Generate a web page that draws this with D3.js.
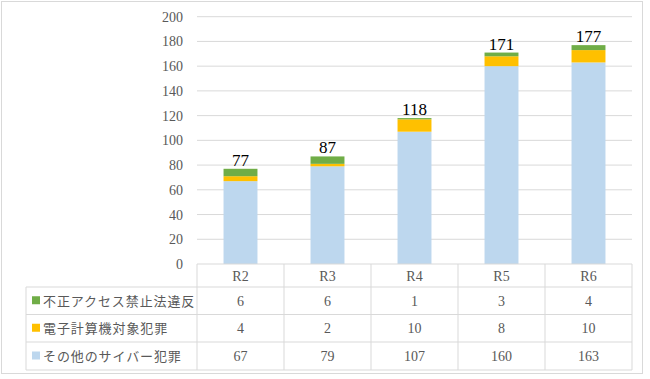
<!DOCTYPE html>
<html><head><meta charset="utf-8">
<script src="https://cdn.jsdelivr.net/npm/d3@7"></script>
<style>body{margin:0;background:#fff} .sf{font-family:"Liberation Serif","Times New Roman","DejaVu Serif",serif} .jp{font-family:"Noto Sans CJK JP",sans-serif}</style>
</head><body>
<svg id="c" width="650" height="379"></svg>
<script>
const categories = ["R2","R3","R4","R5","R6"];
const seriesNames = ["不正アクセス禁止法違反","電子計算機対象犯罪","その他のサイバー犯罪"];
const unauthorized = [6,6,1,3,4];
const computer = [4,2,10,8,10];
const other = [67,79,107,160,163];
const yTicks = [0,20,40,60,80,100,120,140,160,180,200];
const colors = ["#70AD47","#FFC000","#BDD7EE"];

(function(){
const svg = d3.select("#c");
const pL = 197, pR = 632, pT = 16.7, pB = 264;
const x = d3.scaleBand().domain(categories).range([pL,pR]).paddingInner(0).paddingOuter(0);
const y = d3.scaleLinear().domain([0,200]).range([pB,pT]);

svg.append("rect").attr("x",1.5).attr("y",1.5).attr("width",641).attr("height",372)
  .attr("fill","#fff").attr("stroke","#D9D9D9");

svg.append("g").selectAll("line").data(yTicks.filter(d=>d>0)).join("line")
  .attr("x1",pL).attr("x2",pR).attr("y1",d=>y(d)).attr("y2",d=>y(d))
  .attr("stroke","#D9D9D9").attr("stroke-width",1);

const yAxis = d3.axisLeft(y).tickValues(yTicks).tickSize(0).tickPadding(14);
const ga = svg.append("g").attr("transform",`translate(${pL},0)`).call(yAxis);
ga.attr("font-family",null).attr("font-size",null);
ga.select(".domain").remove();
ga.selectAll("text").attr("class","sf").style("font-size","14px").attr("fill","#595959");

const rows = categories.map((c,i)=>({cat:c, other:other[i], computer:computer[i], unauthorized:unauthorized[i]}));
const stack = d3.stack().keys(["other","computer","unauthorized"])(rows);
const colorOf = {other:colors[2], computer:colors[1], unauthorized:colors[0]};
const bw = x.bandwidth()*0.39;
svg.append("g").selectAll("g").data(stack).join("g").attr("fill",d=>colorOf[d.key])
  .selectAll("rect").data(d=>d).join("rect")
  .attr("x",d=>x(d.data.cat)+x.bandwidth()/2-bw/2).attr("width",bw)
  .attr("y",d=>y(d[1])).attr("height",d=>y(d[0])-y(d[1]));

svg.append("g").selectAll("text").data(rows).join("text").attr("class","sf")
  .attr("x",d=>x(d.cat)+x.bandwidth()/2)
  .attr("y",d=>y(d.other+d.computer+d.unauthorized)-3)
  .attr("text-anchor","middle").style("font-size","17px").attr("fill","#000")
  .text(d=>d.other+d.computer+d.unauthorized);

const tableLeft = 26, rowY = [264,287,314.5,342,370];
const tg = svg.append("g").attr("stroke","#D9D9D9").attr("stroke-width",1).attr("fill","none");
tg.append("line").attr("x1",pL).attr("x2",pR).attr("y1",rowY[0]).attr("y2",rowY[0]);
rowY.slice(1).forEach(yy=>tg.append("line").attr("x1",tableLeft).attr("x2",pR).attr("y1",yy).attr("y2",yy));
tg.append("line").attr("x1",tableLeft).attr("x2",tableLeft).attr("y1",rowY[1]).attr("y2",rowY[4]);
categories.forEach(c=>tg.append("line").attr("x1",x(c)).attr("x2",x(c)).attr("y1",rowY[0]).attr("y2",rowY[4]));
tg.append("line").attr("x1",pR).attr("x2",pR).attr("y1",rowY[0]).attr("y2",rowY[4]);

svg.append("g").selectAll("text").data(categories).join("text").attr("class","sf")
  .attr("x",d=>x(d)+x.bandwidth()/2).attr("y",(rowY[0]+rowY[1])/2+5)
  .attr("text-anchor","middle").style("font-size","14px").attr("fill","#595959").text(d=>d);

const tableData = [unauthorized, computer, other];
tableData.forEach((vals,r)=>{
  const cy = (rowY[r+1]+rowY[r+2])/2;
  svg.append("rect").attr("x",32).attr("y",cy-4.5).attr("width",8).attr("height",8).attr("fill",colors[r]);
  svg.append("text").attr("class","jp").attr("x",43).attr("y",cy+5).style("font-size","13px")
    .attr("fill","#595959").attr("letter-spacing","0.9").text(seriesNames[r]);
  svg.append("g").selectAll("text").data(vals).join("text").attr("class","sf")
    .attr("x",(d,i)=>x(categories[i])+x.bandwidth()/2).attr("y",cy+5)
    .attr("text-anchor","middle").style("font-size","14px").attr("fill","#595959").text(d=>d);
});
})();
</script>
</body></html>
